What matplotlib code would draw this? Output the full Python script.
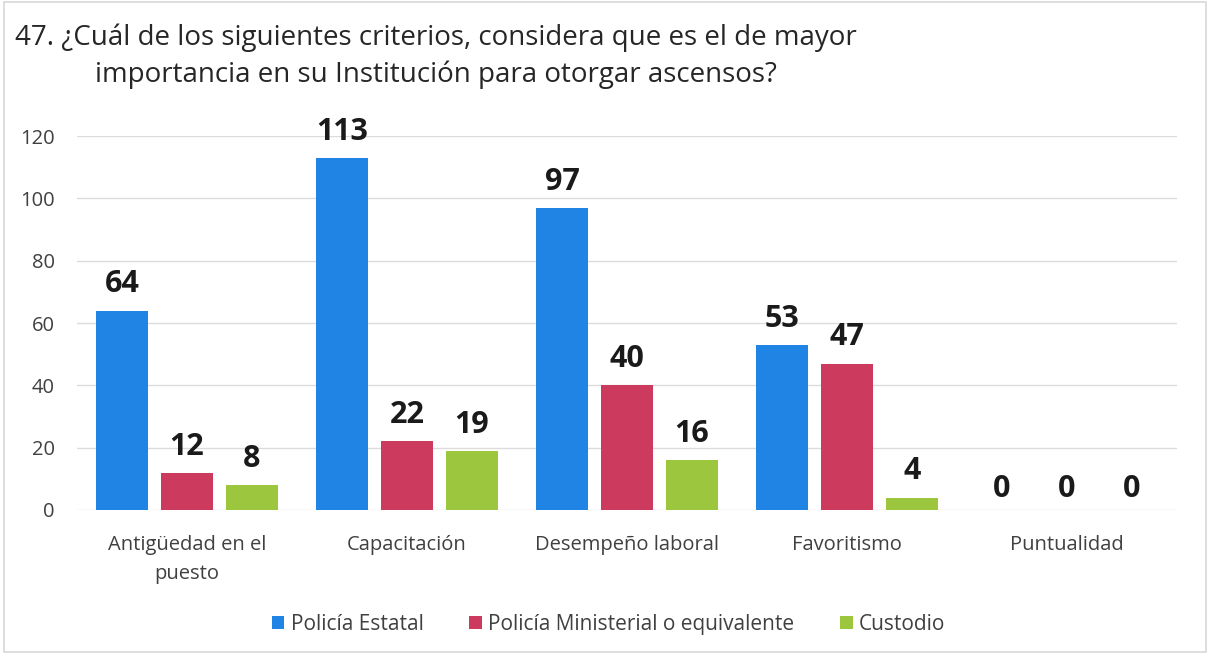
import matplotlib
matplotlib.use("Agg")
import matplotlib.pyplot as plt
import numpy as np
from matplotlib.patches import Rectangle

categories = ["Antigüedad en el\npuesto", "Capacitación", "Desempeño laboral", "Favoritismo", "Puntualidad"]
series_names = ["Policía Estatal", "Policía Ministerial o equivalente", "Custodio"]
estatal = [64, 113, 97, 53, 0]
ministerial = [12, 22, 40, 47, 0]
custodio = [8, 19, 16, 4, 0]
yticks = [0, 20, 40, 60, 80, 100, 120]
title = "47. ¿Cuál de los siguientes criterios, considera que es el de mayor\nimportancia en su Institución para otorgar ascensos?"

colors = ["#1f84e3", "#cc3a5e", "#9cc63d"]
plt.rcParams['font.family'] = ['Open Sans', 'DejaVu Sans']

fig = plt.figure(figsize=(12.1, 6.54), dpi=100)
fig.patches.append(Rectangle((0.003, 0.003), 0.994, 0.994, transform=fig.transFigure,
                             fill=False, edgecolor="#d8d8d8", linewidth=1.2))
ax = fig.add_axes([0.0636, 0.2202, 0.9091, 0.5718])

x = np.arange(len(categories))
w = 0.236
off = 0.295
for i, (vals, c) in enumerate(zip([estatal, ministerial, custodio], colors)):
    pos = x + (i - 1) * off
    ax.bar(pos, vals, width=w, color=c, label=series_names[i], zorder=3)
    for p, v in zip(pos, vals):
        ax.annotate(str(v), (p, v), xytext=(0, 13 if v else 9), textcoords="offset points",
                    ha="center", va="baseline", fontsize=22,
                    fontweight="bold", color="#1a1a1a", zorder=4, annotation_clip=False)

ax.set_xlim(-0.5, len(categories) - 0.5)
ax.set_ylim(0, 120)
ax.set_yticks(yticks)
ax.set_xticks(x)
ax.set_xticklabels(categories, fontsize=14.5, color="#404040", linespacing=1.6)
ax.tick_params(axis="y", labelsize=14.5, colors="#404040", length=0, pad=16)
ax.tick_params(axis="x", length=0, pad=18)
ax.grid(axis="y", color="#dcdcdc", linewidth=1, zorder=0)
for s in ax.spines.values():
    s.set_visible(False)

fig.text(0.3603, 0.964, title, ha="center", va="top", fontsize=20, color="#262626",
         multialignment="center", linespacing=1.4)

leg = fig.legend(loc="center", bbox_to_anchor=(0.503, 0.045), ncol=3, frameon=False,
                 fontsize=15, handlelength=0.6, handleheight=0.6, handletextpad=0.3,
                 columnspacing=2.2)
for t in leg.get_texts():
    t.set_color("#404040")

fig.savefig("out.png", dpi=100)
